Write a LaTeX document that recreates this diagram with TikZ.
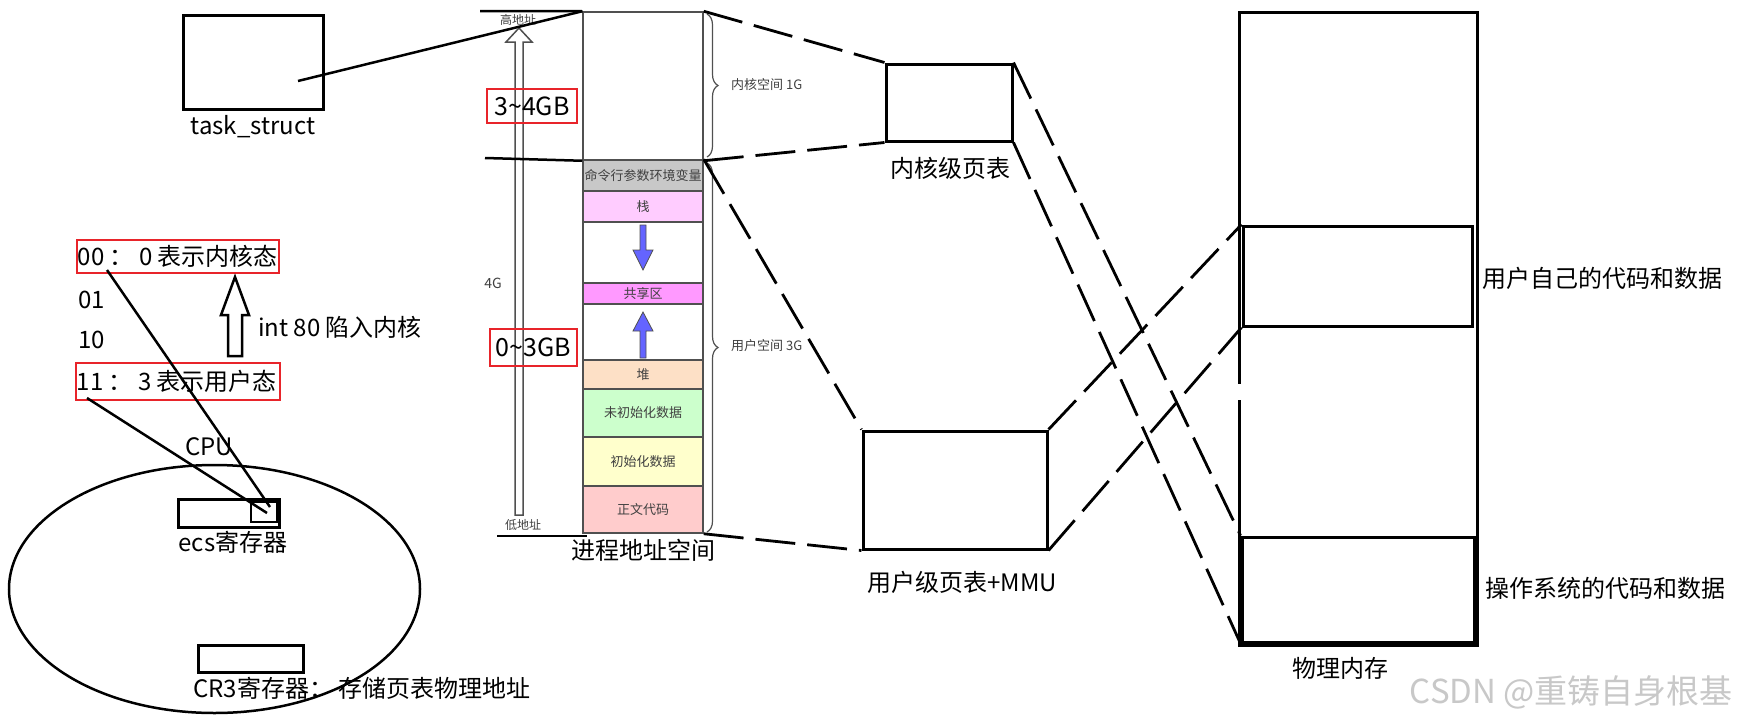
\documentclass[tikz,border=0pt]{standalone}
\usepackage{fontspec}
\newfontfamily\cjk{Noto Sans CJK SC}
\usetikzlibrary{decorations.pathreplacing,shapes.geometric}
\newcommand\myfs[1]{\fontsize{#1}{#1}\selectfont}
\definecolor{redc}{HTML}{E8242A}
\definecolor{segc}{HTML}{505050}
\definecolor{segtxt}{HTML}{404040}
\definecolor{envc}{HTML}{C8C8C8}
\definecolor{stackc}{HTML}{FFCCFF}
\definecolor{sharec}{HTML}{FF99FF}
\definecolor{heapc}{HTML}{FDE0C6}
\definecolor{bssc}{HTML}{CCFFCC}
\definecolor{datac}{HTML}{FFFFCC}
\definecolor{textc}{HTML}{FFCCCC}
\definecolor{bluec}{HTML}{6464FF}
\definecolor{wmc}{HTML}{C8C8C8}
\begin{document}
\begin{tikzpicture}[x=1pt,y=-1pt,
  blk/.style={draw=black, line width=3pt, inner sep=0pt},
  redbox/.style={draw=redc, line width=2.8pt, inner sep=0pt},
  seg/.style={draw=segc, line width=1.5pt, inner sep=0pt, minimum width=120pt, text=segtxt, font=\cjk\myfs{13}},
  lbl/.style={font=\cjk\myfs{24}, inner sep=0pt},
  biglbl/.style={font=\cjk\myfs{25}, inner sep=0pt},
  small/.style={font=\cjk\myfs{13}, text=segtxt, inner sep=0pt},
  conn/.style={line width=2.5pt, black},
  dconn/.style={line width=2.8pt, black, dash pattern=on 40pt off 12pt},
  brc/.style={draw=segc, line width=1.2pt, decorate, decoration={brace, amplitude=11pt}}]
\useasboundingbox (0,0) rectangle (1737,723);
\fill[white] (0,0) rectangle (1737,723);

% ---------- task_struct ----------
\node[blk, minimum width=140pt, minimum height=94pt] (ts) at (253,62) {};
\node[lbl] (tslbl) at (253,127) {task\_struct};
\coordinate (tsPtr) at (298,81);

% ---------- address space column ----------
\node[seg, fill=white, minimum height=148pt] (kern) at (643,86) {};
\node[seg, fill=envc, minimum height=31pt] (env) at (643,175.5) {命令行参数环境变量};
\node[seg, fill=stackc, minimum height=31pt] (stack) at (643,206.5) {栈};
\node[seg, fill=white, minimum height=61pt] (gapA) at (643,252.5) {};
\node[seg, fill=sharec, minimum height=21pt] (share) at (643,293.5) {共享区};
\node[seg, fill=white, minimum height=56pt] (gapB) at (643,332) {};
\node[seg, fill=heapc, minimum height=29pt] (heap) at (643,374.5) {堆};
\node[seg, fill=bssc, minimum height=48pt] (bss) at (643,413) {未初始化数据};
\node[seg, fill=datac, minimum height=49pt] (data) at (643,461.5) {初始化数据};
\node[seg, fill=textc, minimum height=47pt] (text) at (643,509.5) {正文代码};
\node[lbl] (aslbl) at (643,550) {进程地址空间};

% blue arrows
\filldraw[fill=bluec, draw=segc, line width=0.8pt]
  (640,225) -- (646,225) -- (646,250) -- (653,250) -- (643,270) -- (633,250) -- (640,250) -- cycle;
\filldraw[fill=bluec, draw=segc, line width=0.8pt]
  (640,358) -- (646,358) -- (646,331) -- (653,331) -- (643,312) -- (633,331) -- (640,331) -- cycle;

% braces
\draw[brc] (707,14) -- (707,157);
\draw[brc] (707,163) -- (707,532);
\node[small, anchor=west] (kslbl) at (731,85) {内核空间 1G};
\node[small, anchor=west] (uslbl) at (731,346) {用户空间 3G};

% hollow address arrow
\filldraw[fill=white, draw=segc, line width=1.5pt]
  (515,515) -- (523,515) -- (523,42) -- (532,42) -- (519,28) -- (506,42) -- (515,42) -- cycle;
\node[small, font=\cjk\myfs{12}] (hiaddr) at (518,20) {高地址};
\node[small, font=\cjk\myfs{12}] (loaddr) at (523,525) {低地址};
\node[small, font=\cjk\myfs{14}] (fourg) at (493,283) {4G};

% horizontal lines
\coordinate (hiL) at (480,11);
\coordinate (midL) at (485,158);
\coordinate (loL) at (497,536);
\coordinate (loR) at (587,536);
\draw[conn] (hiL) -- (kern.north west);
\draw[conn] (midL) -- (kern.south west);
\draw[conn] (loL) -- (loR);
\draw[conn] (tsPtr) -- (kern.north west);

% red GB boxes
\node[redbox, minimum width=90pt, minimum height=34pt] (gb34) at (532,106) {};
\node[biglbl] (gb34t) at (gb34) {3\textasciitilde 4GB};
\node[redbox, minimum width=87pt, minimum height=37pt] (gb03) at (533.5,347.5) {};
\node[biglbl] (gb03t) at (gb03) {0\textasciitilde 3GB};

% ---------- page tables ----------
\node[blk, minimum width=126pt, minimum height=77pt] (kpt) at (949,102.5) {};
\node[lbl] (kptlbl) at (950,168) {内核级页表};
\node[blk, minimum width=184pt, minimum height=118pt] (upt) at (955,490) {};
\node[lbl] (uptlbl) at (962,582) {用户级页表+MMU};

% ---------- physical memory ----------
\node[blk, minimum width=238pt, minimum height=633pt] (phys) at (1358,328.5) {};
\fill[white] (1234,384) rectangle (1244,400);
\node[blk, minimum width=229pt, minimum height=100pt] (usr) at (1357.5,276) {};
\node[blk, minimum width=232pt, minimum height=105pt] (osm) at (1358,589.5) {};
\node[lbl, anchor=west] (usrlbl) at (1482,278) {用户自己的代码和数据};
\node[lbl, anchor=west] (oslbl) at (1485,588) {操作系统的代码和数据};
\node[lbl] (physlbl) at (1340,668) {物理内存};
\node[font=\cjk\myfs{33}, text=wmc, inner sep=0pt, anchor=east] (wm) at (1733,692) {CSDN @重铸自身根基};

% dashed mappings
\draw[dconn] (kern.north east) -- (kpt.north west);
\draw[dconn] (kern.south east) -- (kpt.south west);
\draw[dconn] (env.north east) -- (upt.north west);
\draw[dconn] (text.south east) -- (upt.south west);
\draw[dconn] (kpt.north east) -- (osm.north west);
\draw[dconn] (kpt.south east) -- (osm.south west);
\draw[dconn] (upt.north east) -- (usr.north west);
\draw[dconn] (upt.south east) -- (usr.south west);

% ---------- CPU side ----------
\node[redbox, minimum width=202pt, minimum height=33pt] (k00) at (178,256.5) {};
\node[lbl, anchor=west] (k00t) at ([xshift=2pt]k00.west) {00 ： 0 表示内核态};
\node[lbl, anchor=west] (r01) at (78,300) {01};
\node[lbl, anchor=west] (r10) at (78,340) {10};
\node[redbox, minimum width=204pt, minimum height=37pt] (k11) at (178,381.5) {};
\node[lbl, anchor=west] (k11t) at ([xshift=2pt]k11.west) {11 ： 3 表示用户态};

\filldraw[fill=white, draw=black, line width=2.5pt]
  (228,356) -- (242,356) -- (242,315) -- (249,315) -- (235,277) -- (221,315) -- (228,315) -- cycle;
\node[lbl, anchor=west] (intlbl) at (258,327) {int 80 陷入内核};

\node[draw=black, line width=2.5pt, ellipse, inner sep=0pt, minimum width=411pt, minimum height=248pt] (cpu) at (214.5,589) {};
\node[lbl] (cpulbl) at (209,447) {CPU};
\node[blk, minimum width=101pt, minimum height=28pt] (ecs) at (228.5,513) {};
\node[blk, line width=2.5pt, minimum width=26pt, minimum height=20pt] (ecsin) at (264,512) {};
\node[lbl] (ecslbl) at (233,542) {ecs寄存器};
\node[blk, minimum width=105pt, minimum height=27pt] (cr3) at (250.5,658.5) {};
\node[lbl, anchor=west] (cr3lbl) at (193,688) {CR3寄存器： 存储页表物理地址};

\coordinate (p00) at (107,270);
\coordinate (p11) at (87,398);
\coordinate (e00) at (270,507);
\coordinate (e11) at (267,513);
\draw[conn] (p00) -- (e00);
\draw[conn] (p11) -- (e11);
\end{tikzpicture}
\end{document}
